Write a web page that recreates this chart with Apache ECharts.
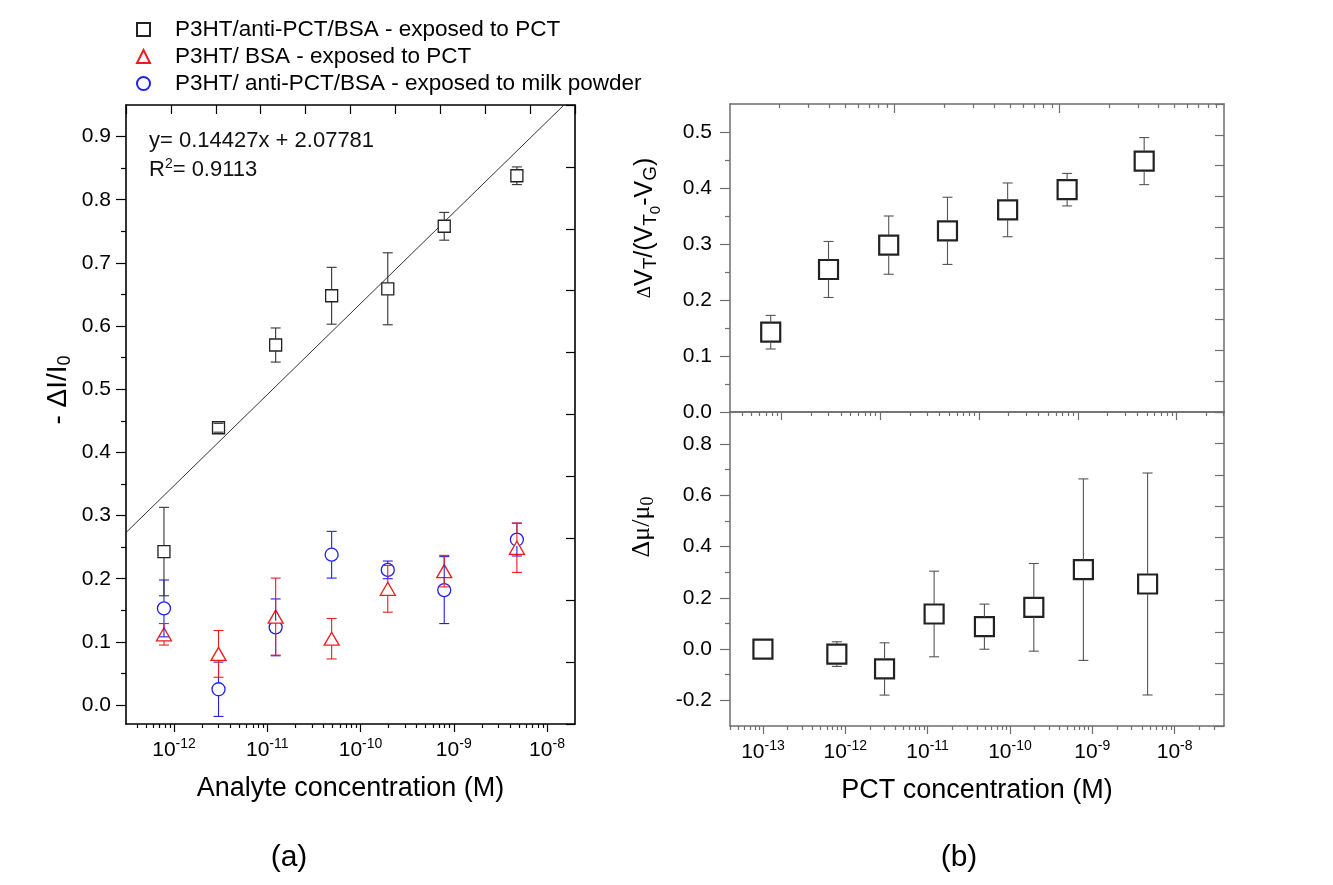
<!DOCTYPE html>
<html><head><meta charset="utf-8">
<script src="https://cdn.jsdelivr.net/npm/echarts@6/dist/echarts.min.js"></script>
<style>html,body{margin:0;padding:0;background:#fff}#c{width:1333px;height:885px}</style>
</head><body><div id="c"></div>
<script>
// ---------------- data ----------------
// Panel (a): analyte concentration (M)
const concA = [7.8e-13, 3.0e-12, 1.23e-11, 4.9e-11, 1.96e-10, 7.9e-10, 4.75e-9];
const antiPctPct    = [0.243, 0.439, 0.570, 0.648, 0.659, 0.758, 0.838];
const antiPctPctErr = [0.070, 0.007, 0.027, 0.045, 0.057, 0.022, 0.014];
const bsaPct        = [0.112, 0.081, 0.140, 0.105, 0.184, 0.212, 0.249];
const bsaPctErr     = [0.017, 0.037, 0.061, 0.032, 0.037, 0.025, 0.039];
const antiPctMilk    = [0.153, 0.025, 0.123, 0.238, 0.214, 0.182, 0.262];
const antiPctMilkErr = [0.045, 0.043, 0.045, 0.037, 0.014, 0.053, 0.026];
// linear fit drawn in panel (a): end points
const fitConc = [3.05e-13, 1.52e-8];
const fitVal  = [0.273, 0.950];
// Panel (b) top: threshold voltage shift
const concBTop = [7.8e-13, 3.0e-12, 1.22e-11, 4.8e-11, 1.95e-10, 7.8e-10, 4.7e-9];
const dVt    = [0.1425, 0.2545, 0.298, 0.3235, 0.361, 0.397, 0.448];
const dVtErr = [0.030, 0.050, 0.052, 0.060, 0.048, 0.029, 0.042];
// Panel (b) bottom: mobility change
const concBBot = [1e-13, 7.9e-13, 3.0e-12, 1.2e-11, 4.9e-11, 1.95e-10, 7.8e-10, 4.7e-9];
const dMu    = [0.0, -0.0195, -0.0775, 0.137, 0.0875, 0.163, 0.31, 0.254];
const dMuErr = [0.0, 0.048, 0.102, 0.167, 0.088, 0.171, 0.354, 0.433];
// tick labels
const decadesA = [-12, -11, -10, -9, -8];
const decadesB = [-13, -12, -11, -10, -9, -8];
const yTicksA = [0, 0.1, 0.2, 0.3, 0.4, 0.5, 0.6, 0.7, 0.8, 0.9];
const yMinorA = [0.05, 0.15, 0.25, 0.35, 0.45, 0.55, 0.65, 0.75, 0.85];
const yTicksBTop = [0, 0.1, 0.2, 0.3, 0.4, 0.5];
const yMinorBTop = [0.05, 0.15, 0.25, 0.35, 0.45];
const yTicksBBot = [-0.2, 0.0, 0.2, 0.4, 0.6, 0.8];
const yMinorBBot = [-0.1, 0.1, 0.3, 0.5, 0.7];
const names = ['P3HT/anti-PCT/BSA - exposed to PCT', 'P3HT/ BSA - exposed to PCT', 'P3HT/ anti-PCT/BSA - exposed to milk powder'];

// ---------------- helpers ----------------
const FONT = '"Liberation Sans", Arial, sans-serif';
const SERIF = '"Liberation Serif", "Times New Roman", serif';
const L = v => Math.log10(v);
const BLACK = '#000', GREY = '#6e6e6e';
const RED = '#f01c1c', BLUE = '#2020ee';

function logMinor(min, max) {
  const out = [];
  for (let n = Math.floor(min); n <= Math.ceil(max); n++)
    for (let k = 2; k <= 9; k++) { const v = n + Math.log10(k); if (v > min + 1e-6 && v < max - 1e-6) out.push(v); }
  return out;
}
function ax(o) {
  return Object.assign({ type: 'value', splitLine: { show: false }, axisLabel: { show: false },
    axisTick: { show: false }, axisLine: { show: false, onZero: false } }, o);
}
function line(c, w) { return { show: true, onZero: false, lineStyle: { color: c, width: w } }; }
function tick(c, len, inside, vals) {
  const t = { show: true, inside: inside, length: len, lineStyle: { color: c, width: 1.2 } };
  if (vals) t.customValues = vals;
  return t;
}
const supRich = {
  b: { fontSize: 21, fontFamily: FONT, color: '#000' },
  s: { fontSize: 14, fontFamily: FONT, color: '#000', padding: [0, 0, 12, 0] }
};
const decFmt = v => '{b|10}{s|' + Math.round(v) + '}';
const yLab = (vals, margin) => ({ show: true, customValues: vals, margin: margin, fontSize: 21, fontFamily: FONT, color: '#000', formatter: v => v.toFixed(1) });

const rA = [-12.515, -7.70], rBT = [-12.52, -7.52], rBB = [-13.4, -7.4];

const xAxes = [
  // grid 0
  ax({ gridIndex: 0, position: 'bottom', min: rA[0], max: rA[1], axisLine: line(BLACK, 1.6), axisTick: tick(BLACK, 8, false, decadesA),
       axisLabel: { show: true, customValues: decadesA, formatter: decFmt, margin: 13, rich: supRich },
       name: 'Analyte concentration (M)', nameLocation: 'middle', nameGap: 51,
       nameTextStyle: { fontSize: 27, fontFamily: FONT, color: '#000' } }),
  ax({ gridIndex: 0, position: 'bottom', min: rA[0], max: rA[1], axisTick: tick(BLACK, 4, false, logMinor(rA[0], rA[1])) }),
  ax({ gridIndex: 0, position: 'top', min: 0, max: 10, interval: 1, axisLine: line(BLACK, 1.6), axisTick: tick(BLACK, 9, true) }),
  // grid 1
  ax({ gridIndex: 1, position: 'bottom', min: rBT[0], max: rBT[1], axisLine: line(GREY, 1.5), axisTick: tick(GREY, 8, false, decadesA) }),
  ax({ gridIndex: 1, position: 'bottom', min: rBT[0], max: rBT[1], axisTick: tick(GREY, 4, false, logMinor(rBT[0], rBT[1])) }),
  ax({ gridIndex: 1, position: 'top', min: 0, max: 3, axisLine: line(GREY, 1.5), axisTick: tick(GREY, 9, true, [1, 2]) }),
  ax({ gridIndex: 1, position: 'top', min: 0, max: 3, axisTick: tick(GREY, 4, true, logMinor(0, 3)) }),
  // grid 2
  ax({ gridIndex: 2, position: 'bottom', min: rBB[0], max: rBB[1], axisLine: line(GREY, 1.5), axisTick: tick(GREY, 8, false, decadesB),
       axisLabel: { show: true, customValues: decadesB, formatter: decFmt, margin: 13, rich: supRich },
       name: 'PCT concentration (M)', nameLocation: 'middle', nameGap: 51,
       nameTextStyle: { fontSize: 27, fontFamily: FONT, color: '#000' } }),
  ax({ gridIndex: 2, position: 'bottom', min: rBB[0], max: rBB[1], axisTick: tick(GREY, 4, false, logMinor(rBB[0], rBB[1])) }),
  ax({ gridIndex: 2, position: 'top', min: 0, max: 10, axisLine: line(GREY, 1.5) })
];
const yAxes = [
  // grid 0
  ax({ gridIndex: 0, position: 'left', min: -0.03, max: 0.95, axisLine: line(BLACK, 1.6), axisTick: tick(BLACK, 10, false, yTicksA), axisLabel: yLab(yTicksA, 15) }),
  ax({ gridIndex: 0, position: 'left', min: -0.03, max: 0.95, axisTick: tick(BLACK, 5, false, yMinorA) }),
  ax({ gridIndex: 0, position: 'right', min: 0, max: 10, interval: 1, axisLine: line(BLACK, 1.6), axisTick: tick(BLACK, 9, true) }),
  // grid 1
  ax({ gridIndex: 1, position: 'left', min: 0, max: 0.55, axisLine: line(GREY, 1.5), axisTick: tick(GREY, 10, false, yTicksBTop), axisLabel: yLab(yTicksBTop, 18) }),
  ax({ gridIndex: 1, position: 'left', min: 0, max: 0.55, axisTick: tick(GREY, 5, false, yMinorBTop) }),
  ax({ gridIndex: 1, position: 'right', min: 0, max: 10, interval: 1, axisLine: line(GREY, 1.5), axisTick: tick(GREY, 9, true) }),
  // grid 2
  ax({ gridIndex: 2, position: 'left', min: -0.3, max: 0.925, axisLine: line(GREY, 1.5), axisTick: tick(GREY, 10, false, yTicksBBot), axisLabel: yLab(yTicksBBot, 18) }),
  ax({ gridIndex: 2, position: 'left', min: -0.3, max: 0.925, axisTick: tick(GREY, 5, false, yMinorBBot) }),
  ax({ gridIndex: 2, position: 'right', min: 0, max: 10, interval: 1, axisLine: line(GREY, 1.5), axisTick: tick(GREY, 9, true) })
];

function errBars(xi, yi, conc, vals, errs, color, cap, gap) {
  return {
    type: 'custom', xAxisIndex: xi, yAxisIndex: yi, z: 6, silent: true,
    data: conc.map((c, i) => [L(c), vals[i], errs[i]]),
    encode: { x: 0, y: 1 },
    renderItem: function (params, api) {
      const x = api.value(0), y = api.value(1), e = api.value(2);
      if (!e) return null;
      const c = api.coord([x, y]), t = api.coord([x, y + e]), b = api.coord([x, y - e]);
      const st = { stroke: color, lineWidth: 1.1, fill: null };
      const ch = [
        { type: 'line', shape: { x1: t[0] - cap / 2, y1: t[1], x2: t[0] + cap / 2, y2: t[1] }, style: st },
        { type: 'line', shape: { x1: b[0] - cap / 2, y1: b[1], x2: b[0] + cap / 2, y2: b[1] }, style: st }
      ];
      if (t[1] < c[1] - gap) ch.push({ type: 'line', shape: { x1: c[0], y1: t[1], x2: c[0], y2: c[1] - gap }, style: st });
      if (b[1] > c[1] + gap) ch.push({ type: 'line', shape: { x1: c[0], y1: c[1] + gap, x2: c[0], y2: b[1] }, style: st });
      return { type: 'group', children: ch };
    }
  };
}
function marks(name, xi, yi, conc, vals, symbol, size, color, bw, z) {
  return {
    type: 'scatter', name: name, xAxisIndex: xi, yAxisIndex: yi, z: z,
    symbol: symbol, symbolSize: size,
    itemStyle: { color: '#fff', borderColor: color, borderWidth: bw, opacity: 1 },
    data: conc.map((c, i) => [L(c), vals[i]])
  };
}

const option = {
  animation: false,
  backgroundColor: '#fff',
  textStyle: { fontFamily: FONT },
  grid: [
    { left: 126, top: 105, width: 449, height: 619, containLabel: false, outerBoundsMode: 'none' },
    { left: 730, top: 104, width: 494, height: 308, containLabel: false, outerBoundsMode: 'none' },
    { left: 730, top: 412, width: 494, height: 314, containLabel: false, outerBoundsMode: 'none' }
  ],
  xAxis: xAxes,
  yAxis: yAxes,
  legend: {
    orient: 'vertical', left: 131, top: 13, itemWidth: 13, itemHeight: 13, itemGap: 4,
    selectedMode: false, data: names,
    textStyle: { fontSize: 22.5, color: '#000', fontFamily: FONT, padding: [0, 0, 0, 20] }
  },
  series: [
    { type: 'line', xAxisIndex: 0, yAxisIndex: 0, z: 1, symbol: 'none', silent: true, clip: true,
      lineStyle: { color: '#333', width: 1 }, data: fitConc.map((c, i) => [L(c), fitVal[i]]) },
    marks(names[2], 0, 0, concA, antiPctMilk, 'circle', 13, BLUE, 1.3, 3),
    marks(names[1], 0, 0, concA, bsaPct, 'triangle', [15, 13], RED, 1.3, 4),
    marks(names[0], 0, 0, concA, antiPctPct, 'rect', 12, '#222', 1.3, 5),
    errBars(0, 0, concA, antiPctMilk, antiPctMilkErr, BLUE, 10, 6.5),
    errBars(0, 0, concA, bsaPct, bsaPctErr, RED, 10, 6.5),
    errBars(0, 0, concA, antiPctPct, antiPctPctErr, '#333', 10, 6),
    marks('dVt', 3, 3, concBTop, dVt, 'rect', 19, '#222', 2.2, 5),
    errBars(3, 3, concBTop, dVt, dVtErr, '#555', 10, 10),
    marks('dMu', 7, 6, concBBot, dMu, 'rect', 19, '#222', 2.2, 5),
    errBars(7, 6, concBBot, dMu, dMuErr, '#555', 10, 10)
  ],
  graphic: [
    { type: 'text', left: 149, top: 130, style: { text: 'y= 0.14427x + 2.07781', font: '22px ' + FONT, fill: '#111' } },
    { type: 'text', left: 149, top: 157, style: { text: 'R{sup|2}= 0.9113', font: '22px ' + FONT, fill: '#111',
        rich: { sup: { fontSize: 14, fontFamily: FONT, padding: [0, 0, 12, 0], fill: '#111' } } } },
    { type: 'text', x: 58, y: 390, rotation: Math.PI / 2,
      style: { text: '- ΔI/I{sub|0}', font: '28px ' + FONT, fill: '#000', align: 'center', verticalAlign: 'middle',
        rich: { sub: { fontSize: 18, fontFamily: FONT, padding: [14, 0, 0, 0], fill: '#000' } } } },
    { type: 'text', x: 645, y: 228, rotation: Math.PI / 2,
      style: { text: '{g|Δ}V{s|T}/(V{s|T}{ss|0}-V{s|G})', font: '25px ' + FONT, fill: '#000', align: 'center', verticalAlign: 'middle',
        rich: { g: { fontSize: 19, fontFamily: SERIF, fill: '#000' },
                s: { fontSize: 19, fontFamily: FONT, padding: [11, 0, 0, 0], fill: '#000' },
                ss: { fontSize: 15, fontFamily: FONT, padding: [22, 0, 0, 0], fill: '#000' } } } },
    { type: 'text', x: 642, y: 527, rotation: Math.PI / 2,
      style: { text: '{g|Δμ/μ}{s|0}', font: '26px ' + SERIF, fill: '#000', align: 'center', verticalAlign: 'middle',
        rich: { g: { fontSize: 26, fontFamily: SERIF, fill: '#000' },
                s: { fontSize: 18, fontFamily: SERIF, padding: [12, 0, 0, 0], fill: '#000' } } } },
    { type: 'text', x: 289, y: 858, style: { text: '(a)', font: '30px ' + FONT, fill: '#000', align: 'center', verticalAlign: 'middle' } },
    { type: 'text', x: 959, y: 858, style: { text: '(b)', font: '30px ' + FONT, fill: '#000', align: 'center', verticalAlign: 'middle' } }
  ]
};
const chart = echarts.init(document.getElementById('c'));
chart.setOption(option);
</script>
</body></html>
